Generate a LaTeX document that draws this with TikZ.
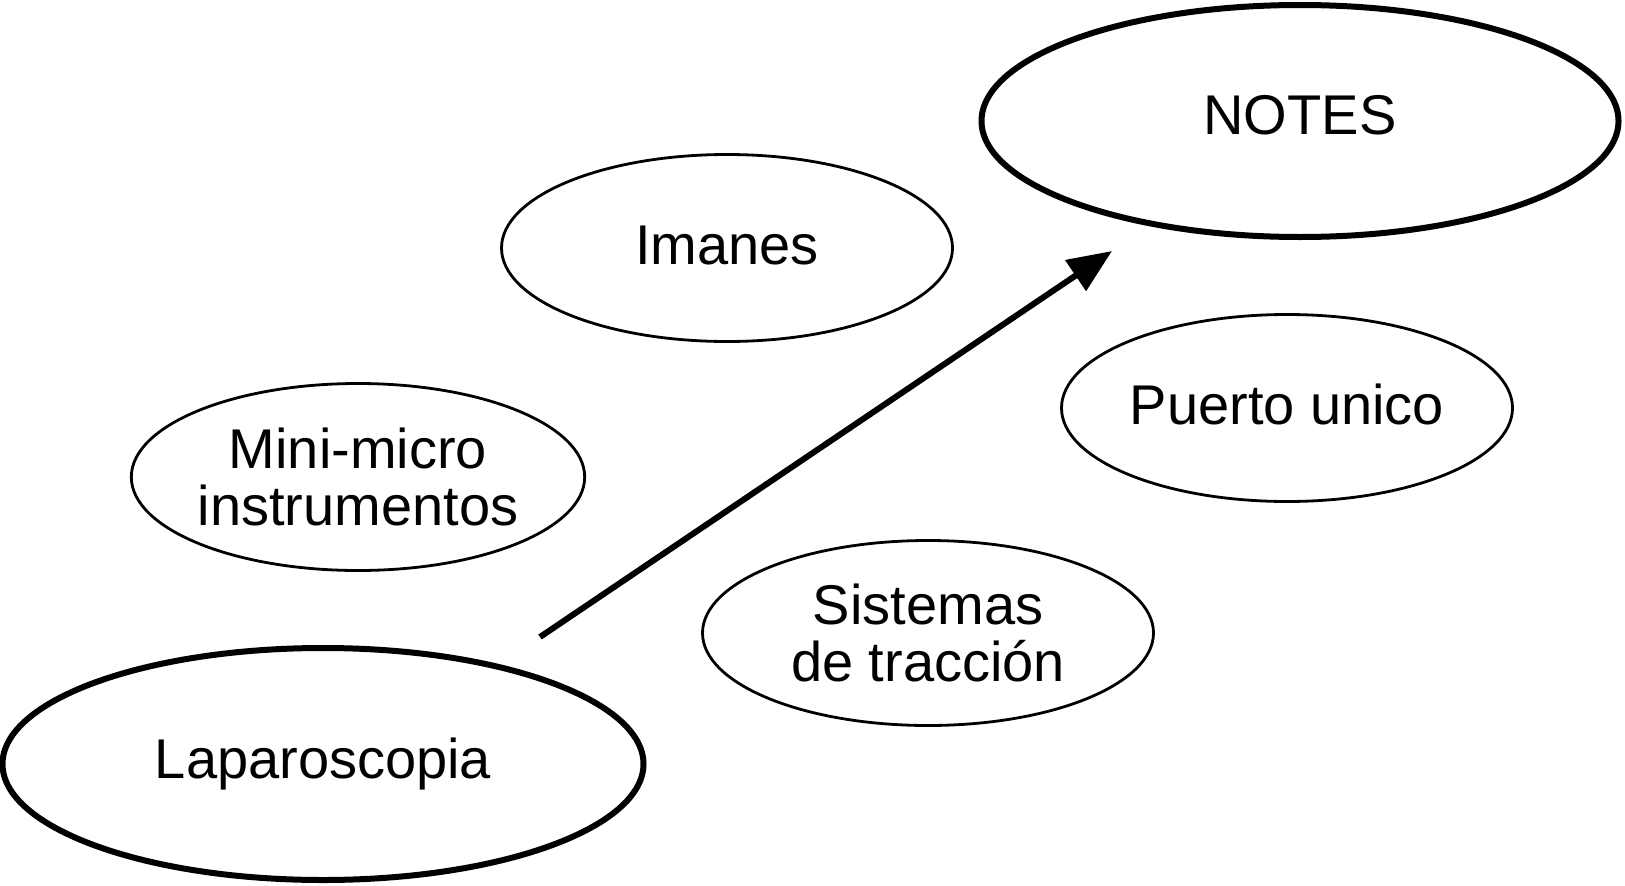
\documentclass[tikz,border=0pt]{standalone}
\usepackage{fontspec}
\setmainfont{Liberation Sans}
\usetikzlibrary{shapes.geometric,arrows.meta}
\begin{document}
\begin{tikzpicture}[x=1pt,y=-1pt,
  oval/.style={draw=black,ellipse,inner sep=0pt,align=center,
    font=\fontsize{56}{57}\selectfont,line width=2.8pt},
  bigoval/.style={oval,line width=6pt},
  arr/.style={line width=6pt,-{Triangle[length=44pt,width=36pt]}}]
\useasboundingbox (0,0) rectangle (1625,886);
\node[bigoval,minimum width=637pt,minimum height=232pt] (notes) at (1300,121) {\raisebox{12pt}{NOTES}};
\node[bigoval,minimum width=641pt,minimum height=232pt] (lapa) at (323,764) {Laparoscopia};
\node[oval,minimum width=451pt,minimum height=187pt] (imanes) at (727,248) {\raisebox{6pt}{Imanes}};
\node[oval,minimum width=451pt,minimum height=187pt] (puerto) at (1287,408) {\raisebox{8pt}{Puerto unico}};
\node[oval,minimum width=451pt,minimum height=187pt] (mini) at (358,477) {Mini-micro\\instrumentos};
\node[oval,minimum width=451pt,minimum height=185pt] (sist) at (928,633) {Sistemas\\de tracción};
\coordinate (a0) at (540,637);
\coordinate (a1) at (1112,251);
\draw[arr] (a0) -- (a1);
\end{tikzpicture}
\end{document}
